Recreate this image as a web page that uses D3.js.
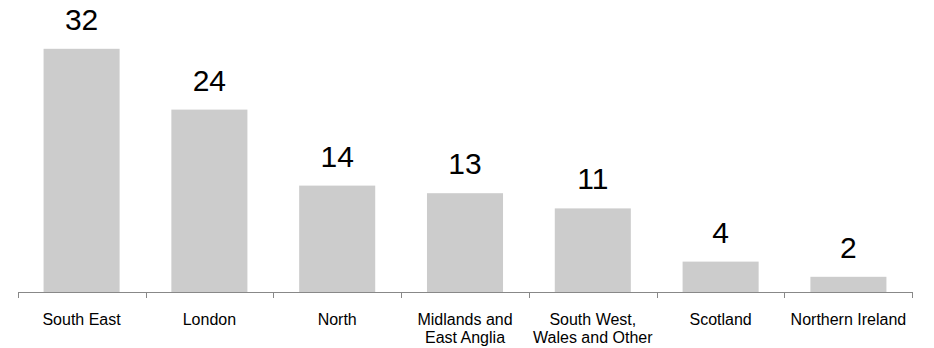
<!DOCTYPE html>
<html><head><meta charset="utf-8">
<script src="https://cdn.jsdelivr.net/npm/d3@7"></script>
<style>body{margin:0;background:#fff}</style>
</head><body><svg id="c" width="934" height="348"></svg>
<script>
const categories = ["South East","London","North","Midlands and\nEast Anglia","South West,\nWales and Other","Scotland","Northern Ireland"];
const values = [32,24,14,13,11,4,2];

const svg = d3.select("#c");
const baseY = 292;
const x = d3.scaleBand().domain(categories).range([18, 912]).paddingInner(0.405).paddingOuter(0.2);
const y = d3.scaleLinear().domain([0, 35]).range([baseY, baseY - 35*7.6]);

svg.selectAll("rect.bar").data(values).join("rect")
  .attr("x", (d,i)=>x(categories[i]))
  .attr("width", x.bandwidth())
  .attr("y", d=>y(d))
  .attr("height", d=>baseY - y(d))
  .attr("fill", "#cccccc");

svg.selectAll("text.val").data(values).join("text")
  .attr("x", (d,i)=>x(categories[i]) + x.bandwidth()/2)
  .attr("y", d=>y(d) - 19)
  .attr("text-anchor","middle")
  .attr("font-family","Liberation Sans, Arial, sans-serif")
  .attr("font-size", 30)
  .attr("fill","#000")
  .text(d=>d);

// axis
const step = x.step();
const x0 = 18, x1 = 912;
const ax = svg.append("g");
ax.append("line").attr("x1",x0).attr("x2",x1).attr("y1",baseY+0.5).attr("y2",baseY+0.5)
  .attr("stroke","#888").attr("stroke-width",1);
const tickPos = d3.range(categories.length+1).map(i=> i===categories.length ? x1 : x(categories[i]) - x.paddingInner()*step/2 - (i===0 ? 0 : 0));
ax.selectAll("line.t").data(d3.range(categories.length+1)).join("line")
  .attr("x1", i=> Math.round(x0 + i*(x1-x0)/categories.length)+0.5)
  .attr("x2", i=> Math.round(x0 + i*(x1-x0)/categories.length)+0.5)
  .attr("y1", baseY).attr("y2", baseY+6)
  .attr("stroke","#888").attr("stroke-width",1);

const lab = svg.selectAll("text.cat").data(categories).join("text")
  .attr("text-anchor","middle")
  .attr("font-family","Liberation Sans, Arial, sans-serif")
  .attr("font-size", 16)
  .attr("fill","#000");
lab.each(function(d){
  const t = d3.select(this);
  const cx = x(d) + x.bandwidth()/2;
  d.split("\n").forEach((line,j)=>{
    t.append("tspan").attr("x",cx).attr("y",325 + j*18).text(line);
  });
});
</script></body></html>
